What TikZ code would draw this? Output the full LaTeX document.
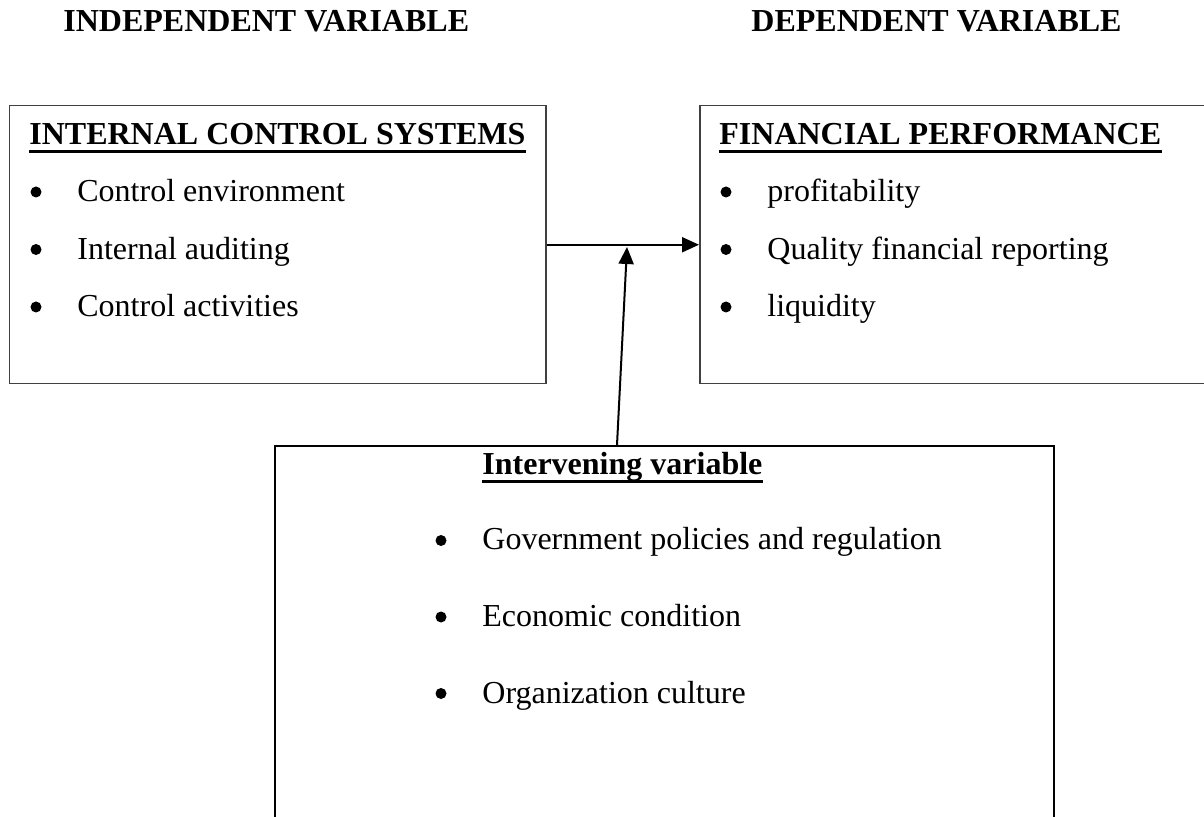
\documentclass[tikz,border=0pt]{standalone}
\usepackage{fontspec}
\setmainfont{Liberation Serif}
\usepackage{tikz}
\usetikzlibrary{arrows.meta}

\begin{document}
\begin{tikzpicture}[x=0.5pt,y=-0.5pt,
  every node/.style={inner sep=0pt,font=\fontsize{16pt}{19pt}\selectfont},
  txt/.style={anchor=base west},
  hd/.style={anchor=base west,font=\fontsize{16pt}{19pt}\selectfont\bfseries},
  dot/.style={circle,fill=black,minimum size=5.5pt},
  box/.style={draw=black!75,line width=0.75pt,anchor=north west},
  ul/.style={line width=1.5pt},
  arr/.style={line width=1pt,-{Triangle[length=8.5pt,width=7.5pt]}}]
  \useasboundingbox (0,0) rectangle (1204,817);
  \clip (0,0) rectangle (1204,817);

  \node[hd] (indep) at (63,32) {INDEPENDENT VARIABLE};
  \node[hd] (dep) at (751,32) {DEPENDENT VARIABLE};

  % the three boxes
  \node[box,minimum width=268.25pt,minimum height=139pt] (ics) at (8.5,105) {};
  \node[box,minimum width=262pt,minimum height=139pt] (fin) at (699,105) {};
  \node[box,draw=black,line width=1pt,minimum width=389.5pt,minimum height=200pt] (ivar) at (274,445) {};

  % box titles
  \node[hd] (icsh) at (29,145) {INTERNAL CONTROL SYSTEMS};
  \node[hd] (finh) at (719,145) {FINANCIAL PERFORMANCE};
  \node[hd] (ivarh) at (482,475) {Intervening variable};
  \foreach \h in {icsh,finh,ivarh}
    \draw[ul] ([yshift=-3.25pt]\h.base west) -- ([yshift=-3.25pt]\h.base east);

  % bullet lists
  \foreach \t [count=\i] in {Control environment,Internal auditing,Control activities} {
    \node[dot] (icsd\i) at (36,{134.5+57.5*\i}) {};
    \node[txt] (icsi\i) at (77,{144.5+57.5*\i}) {\t};
  }
  \foreach \t [count=\i] in {profitability,Quality financial reporting,liquidity} {
    \node[dot] (find\i) at (726,{134.5+57.5*\i}) {};
    \node[txt] (fini\i) at (767,{144.5+57.5*\i}) {\t};
  }
  \foreach \t [count=\i] in {Government policies and regulation,Economic condition,Organization culture} {
    \node[dot] (ivard\i) at (441,{464+76.5*\i}) {};
    \node[txt] (ivari\i) at (482,{473.5+76.5*\i}) {\t};
  }

  % arrows
  \coordinate (foot) at (617,445);
  \coordinate (hit) at (627,247);
  \draw[arr] (ics.east) -- (fin.west);
  \draw[arr] (foot) -- (hit);
\end{tikzpicture}
\end{document}
